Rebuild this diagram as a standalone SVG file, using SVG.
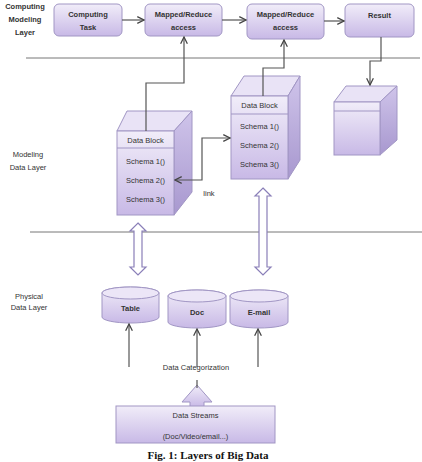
<svg xmlns="http://www.w3.org/2000/svg" width="422" height="462" viewBox="0 0 422 462">
<defs>
<linearGradient id="g" x1="0" y1="0" x2="0" y2="1"><stop offset="0" stop-color="#f1edf9"/><stop offset="1" stop-color="#c8b9e6"/></linearGradient>
<linearGradient id="gs" x1="0" y1="0" x2="0" y2="1"><stop offset="0" stop-color="#cfc4ea"/><stop offset="1" stop-color="#a898cf"/></linearGradient>
<marker id="ah" viewBox="0 0 10 10" refX="9" refY="5" markerWidth="7" markerHeight="7" orient="auto-start-reverse"><path d="M1,1 L9,5 L1,9" fill="none" stroke="#444" stroke-width="1.5"/></marker>
<style>
.box{fill:url(#g);stroke:#a196c4;stroke-width:1}
.side{fill:url(#gs);stroke:#a196c4;stroke-width:1}
.top{fill:#e9e3f6;stroke:#a196c4;stroke-width:1}
.t{font-family:"Liberation Sans",Arial,sans-serif;font-size:7.5px;fill:#333;text-anchor:middle}
.b{font-weight:bold}
.ln{stroke:#555;stroke-width:1.2;fill:none}
.hl{stroke:#777;stroke-width:1;fill:none}
.hol{fill:#fff;stroke:#8a7fb8;stroke-width:1.2}
</style>
</defs>

<g id="labels">
<text class="t b" x="25" y="9">Computing</text>
<text class="t b" x="25" y="22">Modeling</text>
<text class="t b" x="25" y="35">Layer</text>
<text class="t" x="28" y="157">Modeling</text>
<text class="t" x="28" y="170">Data Layer</text>
<text class="t" x="29" y="299">Physical</text>
<text class="t" x="29" y="310">Data Layer</text>
</g>

<g id="layer-lines">
<line class="hl" x1="26" y1="58" x2="420" y2="58"/>
<line class="hl" x1="30" y1="232" x2="422" y2="232"/>
</g>

<g id="computing-task"><rect class="box" x="54" y="4" width="68" height="32" rx="5"/><text class="t b" x="88" y="17">Computing</text><text class="t b" x="88" y="30">Task</text></g>
<g id="mapreduce-1"><rect class="box" x="145" y="4" width="77" height="32" rx="5"/><text class="t b" x="183.5" y="17">Mapped/Reduce</text><text class="t b" x="183.5" y="30">access</text></g>
<g id="mapreduce-2"><rect class="box" x="247" y="4" width="77" height="35" rx="5"/><text class="t b" x="285.5" y="17">Mapped/Reduce</text><text class="t b" x="285.5" y="30">access</text></g>
<g id="result"><rect class="box" x="345" y="4" width="69" height="33" rx="5"/><text class="t b" x="379.5" y="18">Result</text></g>

<g id="data-block-1">
<polygon class="top" points="117,131 127,111 192,111 174,131"/>
<polygon class="side" points="174,131 192,111 192,192 174,215"/>
<rect class="box" x="117" y="131" width="57" height="84"/>
<line x1="117" y1="148" x2="174" y2="148" stroke="#a196c4"/>
<text class="t" x="145.5" y="143">Data Block</text>
<text class="t" x="145.5" y="164">Schema 1()</text>
<text class="t" x="145.5" y="183">Schema 2()</text>
<text class="t" x="145.5" y="202">Schema 3()</text>
</g>

<g id="data-block-2">
<polygon class="top" points="231,96 244,76 300,76 288,96"/>
<polygon class="side" points="288,96 300,76 300,160 288,179"/>
<rect class="box" x="231" y="96" width="57" height="83"/>
<line x1="231" y1="114" x2="288" y2="114" stroke="#a196c4"/>
<text class="t" x="259.5" y="108">Data Block</text>
<text class="t" x="259.5" y="129">Schema 1()</text>
<text class="t" x="259.5" y="148">Schema 2()</text>
<text class="t" x="259.5" y="167">Schema 3()</text>
</g>

<g id="result-block">
<polygon class="top" points="334,102 346,86 397,86 380,102"/>
<polygon class="side" points="380,102 397,86 397,140 380,155"/>
<rect class="box" x="334" y="102" width="46" height="53"/>
<line x1="334" y1="111" x2="380" y2="111" stroke="#a196c4"/>
</g>

<g id="table"><path class="box" d="M102,293 A28.5,6 0 0 1 159,293 V317 A28.5,6 0 0 1 102,317 Z"/><ellipse cx="130.5" cy="293" rx="28.5" ry="6" fill="#ece6f7" stroke="#a196c4"/><text class="t b" x="130.5" y="311">Table</text></g>
<g id="doc"><path class="box" d="M168,296 A29,6 0 0 1 226,296 V322 A29,6 0 0 1 168,322 Z"/><ellipse cx="197" cy="296" rx="29" ry="6" fill="#ece6f7" stroke="#a196c4"/><text class="t b" x="197" y="315">Doc</text></g>
<g id="email"><path class="box" d="M230,296 A29,6 0 0 1 288,296 V322 A29,6 0 0 1 230,322 Z"/><ellipse cx="259" cy="296" rx="29" ry="6" fill="#ece6f7" stroke="#a196c4"/><text class="t b" x="259" y="315">E-mail</text></g>

<g id="data-streams">
<polygon class="box" points="197,385 212,402 204,402 204,407 190,407 190,402 182,402"/>
<rect class="box" x="116" y="406" width="159" height="37"/>
<text class="t" x="195.5" y="418">Data Streams</text>
<text class="t" x="195.5" y="439">(Doc/Video/email...)</text>
</g>

<g id="connectors">
<line class="ln" x1="122" y1="20" x2="144" y2="20" marker-end="url(#ah)"/>
<line class="ln" x1="222" y1="20" x2="246" y2="20" marker-end="url(#ah)"/>
<line class="ln" x1="324" y1="21" x2="344" y2="21" marker-end="url(#ah)"/>
<polyline class="ln" points="381,37 381,61 370,61 370,85" marker-end="url(#ah)"/>
<polyline class="ln" points="146,131 146,83 184,83 184,37" marker-end="url(#ah)"/>
<polyline class="ln" points="263,96 263,68 284,68 284,40" marker-end="url(#ah)"/>
<polyline class="ln" points="175,180 202,180 202,138 230,138" marker-start="url(#ah)" marker-end="url(#ah)"/>
<text class="t" x="209" y="196">link</text>
<path class="hol" d="M138,223 L146,231 L142,231 L142,267 L146,267 L138,275 L130,267 L134,267 L134,231 L130,231 Z"/>
<path class="hol" d="M263,188 L271,196 L267,196 L267,267 L271,267 L263,275 L255,267 L259,267 L259,196 L255,196 Z"/>
<line class="ln" x1="129" y1="367" x2="129" y2="324" marker-end="url(#ah)"/>
<line class="ln" x1="197" y1="367" x2="197" y2="329" marker-end="url(#ah)"/>
<line class="ln" x1="258" y1="367" x2="258" y2="329" marker-end="url(#ah)"/>
<text class="t" x="196" y="370">Data Categorization</text>
<line class="ln" x1="197" y1="380" x2="197" y2="388"/>
</g>

<text x="208" y="459" font-family="Liberation Serif,serif" font-weight="bold" font-size="11" fill="#111" text-anchor="middle">Fig. 1: Layers of Big Data</text>
</svg>
